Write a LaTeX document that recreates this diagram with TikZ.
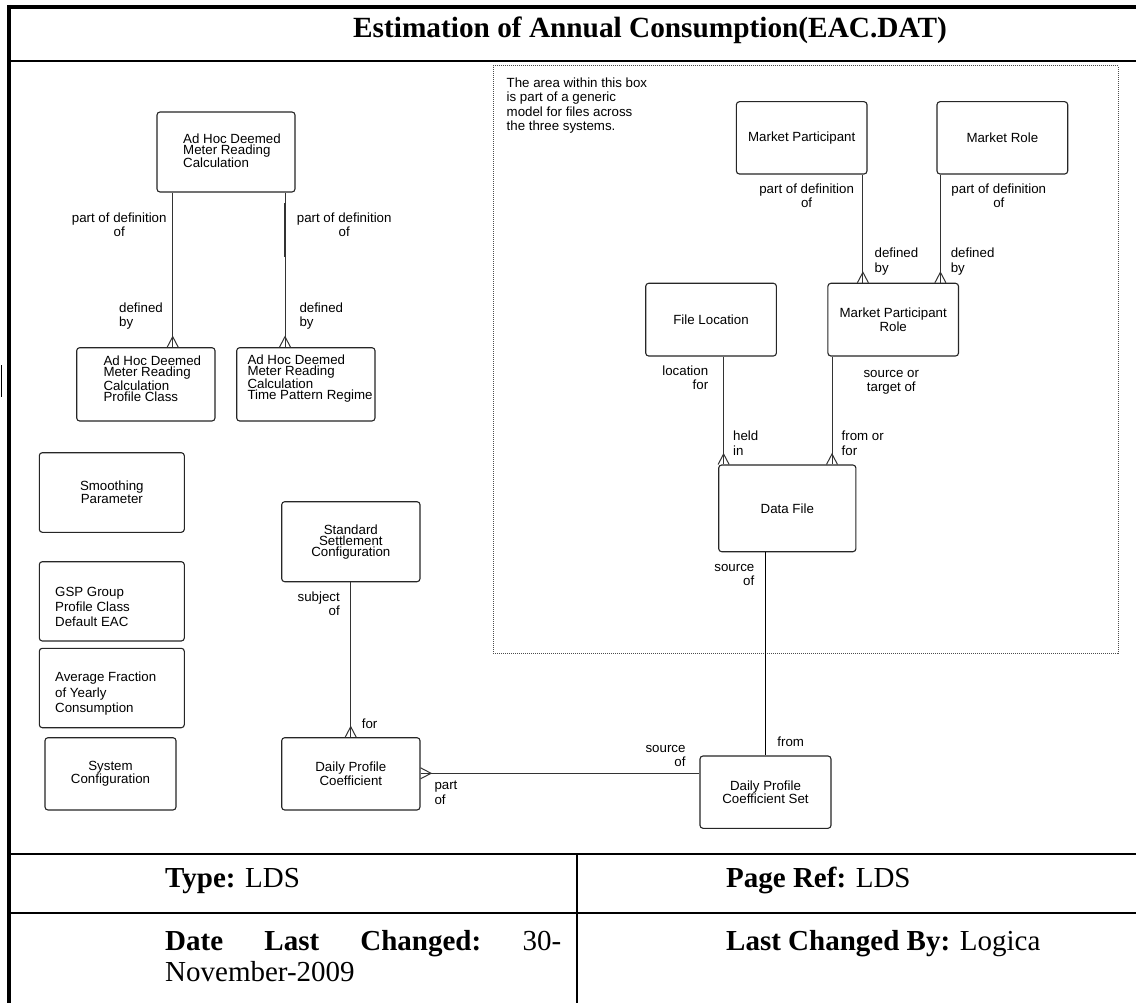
\documentclass[tikz,border=0pt]{standalone}
\usepackage{fontspec}
\setmainfont{Liberation Serif}
\newfontfamily\arialf{Liberation Sans}
\usetikzlibrary{calc}
\newcommand{\etxt}{\arialf\fontsize{13.3}{11}\selectfont}
\newcommand{\ltxt}{\arialf\fontsize{13.3}{14.3}\selectfont}
\newcommand{\gtxt}{\arialf\fontsize{13.3}{15.4}\selectfont}
\newcommand{\tabf}{\fontsize{29}{32}\selectfont}
\newcommand{\crowN}[1]{\draw[rel] ($(#1)+(-5.5,0)$) -- ($(#1)+(0,-10.5)$) -- ($(#1)+(5.5,0)$);}
\newcommand{\crowE}[1]{\draw[rel] ($(#1)+(0,-5.5)$) -- ($(#1)+(10.5,0)$) -- ($(#1)+(0,5.5)$);}
\begin{document}
\begin{tikzpicture}[x=1pt,y=-1pt,
  ent/.style={draw=black!85, line width=1.1pt, rounded corners=3pt, inner sep=0pt, font=\etxt, align=center},
  etx/.style={inner sep=0pt, font=\etxt, align=left, anchor=west},
  lbl/.style={inner sep=0pt, font=\ltxt},
  rel/.style={draw=black!80, line width=1pt},
  frame/.style={draw=black, line width=#1},
  tabtxt/.style={inner sep=0pt, anchor=base west, font=\tabf}]
\useasboundingbox (0,0) rectangle (1136,1003);
\fill[white] (0,0) rectangle (1136,1003);

% frame
\draw[frame=4pt] (7,7) -- (1136,7);
\draw[frame=4pt] (9,5) -- (9,1003);
\draw[frame=2.5pt] (9,61) -- (1136,61);
\draw[frame=2.5pt] (9,854) -- (1136,854);
\draw[frame=2.5pt] (9,913) -- (1136,913);
\draw[frame=2pt] (576.5,854) -- (576.5,1003);
\draw[frame=1.2pt] (1.2,365) -- (1.2,397);

\node[inner sep=0pt, anchor=base west, font=\bfseries\fontsize{29.3}{32}\selectfont] (title) at (353,37.5) {Estimation of Annual Consumption(EAC.DAT)};

% generic area
\node[draw=black!70, densely dotted, line width=1pt, minimum width=625pt, minimum height=587pt, inner sep=0pt] (area) at (805.8,359.5) {};
\node[lbl, align=left, anchor=west] (note) at (506.5,105.5) {The area within this box\\is part of a generic\\model for files across\\the three systems.};

% entities
\node[ent, minimum width=138pt, minimum height=80pt] (adhoc) at (226,152) {};
\node[etx] (adhoct) at (183,151) {Ad Hoc Deemed\\Meter Reading\\Calculation};
\node[ent, minimum width=138.3pt, minimum height=73.3pt] (ahpc) at (145.85,384.35) {};
\node[etx] (ahpct) at (103.3,378.6) {Ad Hoc Deemed\\Meter Reading\\Calculation\\Profile Class};
\node[ent, minimum width=138.3pt, minimum height=73.3pt] (ahtpr) at (305.85,384.35) {};
\node[etx] (ahtprt) at (247.3,378.6) {Ad Hoc Deemed\\Meter Reading\\Calculation\\Time Pattern Regime};
\node[ent, minimum width=145pt, minimum height=79.6pt, font=\arialf\fontsize{13.3}{10}\selectfont] (smooth) at (111.8,492.5) {Smoothing\\Parameter};
\node[ent, minimum width=145pt, minimum height=79.3pt] (gsp) at (111.8,601.35) {};
\node[etx, font=\gtxt] (gspt) at (55,607) {GSP Group\\Profile Class\\Default EAC};
\node[ent, minimum width=145pt, minimum height=79.4pt] (avg) at (111.8,688) {};
\node[etx, font=\gtxt] (avgt) at (55,693.8) {Average Fraction\\of Yearly\\Consumption};
\node[ent, minimum width=131pt, minimum height=72.3pt] (sysc) at (110.5,773.85) {System\\Configuration};
\node[ent, minimum width=138.3pt, minimum height=80pt] (ssc) at (350.85,541.7) {Standard\\Settlement\\Configuration};
\node[ent, minimum width=138.3pt, minimum height=72.3pt] (dpc) at (350.85,773.85) {Daily Profile\\Coefficient};
\node[ent, minimum width=130.6pt, minimum height=72.3pt] (mp) at (801.7,137.85) {Market Participant};
\node[ent, minimum width=130.7pt, minimum height=72.3pt] (mr) at (1002.35,137.85) {Market Role};
\node[ent, minimum width=130.7pt, minimum height=72.7pt] (fl) at (711.05,319.65) {File Location};
\node[ent, minimum width=130.6pt, minimum height=72.7pt, font=\arialf\fontsize{13.3}{10.6}\selectfont] (mpr) at (893.2,319.65) {Market Participant\\Role};
\node[ent, minimum width=137.2pt, minimum height=86.7pt] (df) at (787.3,508.35) {Data File};
\node[ent, minimum width=131pt, minimum height=72.3pt, font=\arialf\fontsize{13.3}{10}\selectfont] (dpcs) at (765.5,792.15) {Daily Profile\\Coefficient Set};

% connector x positions
\coordinate (xa) at (172.7,0);
\coordinate (xb) at (285,0);
\coordinate (xc) at (862.9,0);
\coordinate (xd) at (940.4,0);
\coordinate (xe) at (723.6,0);
\coordinate (xf) at (832,0);
\coordinate (xg) at (765.2,0);
\coordinate (xh) at (350.7,0);
\coordinate (yh) at (0,773.3);

\draw[rel] (adhoc.south -| xa) -- (ahpc.north -| xa);
\crowN{ahpc.north -| xa}
\draw[rel] (adhoc.south -| xb) -- (ahtpr.north -| xb);
\draw[draw=black!80, line width=2pt] (285,203) -- (285,257);
\crowN{ahtpr.north -| xb}
\draw[rel] (mp.south -| xc) -- (mpr.north -| xc);
\crowN{mpr.north -| xc}
\draw[rel] (mr.south -| xd) -- (mpr.north -| xd);
\crowN{mpr.north -| xd}
\draw[rel] (fl.south -| xe) -- (df.north -| xe);
\crowN{df.north -| xe}
\draw[rel] (mpr.south -| xf) -- (df.north -| xf);
\crowN{df.north -| xf}
\draw[draw=black, line width=1.3pt] (df.south -| xg) -- (dpcs.north -| xg);
\draw[rel] (ssc.south -| xh) -- (dpc.north -| xh);
\crowN{dpc.north -| xh}
\draw[rel] (dpc.east |- yh) -- (dpcs.west |- yh);
\crowE{dpc.east |- yh}

% labels
\node[lbl, align=center] (l1) at (119.2,224.7) {part of definition\\of};
\node[lbl, align=left, anchor=west] (l2) at (119,315.8) {defined\\by};
\node[lbl, align=center] (l3) at (344.2,224.7) {part of definition\\of};
\node[lbl, align=left, anchor=west] (l4) at (299.3,315.8) {defined\\by};
\node[lbl, align=center] (l5) at (806.6,195.8) {part of definition\\of};
\node[lbl, align=center] (l6) at (998.8,195.8) {part of definition\\of};
\node[lbl, align=left, anchor=west] (l7) at (874.4,261.7) {defined\\by};
\node[lbl, align=left, anchor=west] (l8) at (950.6,261.7) {defined\\by};
\node[lbl, align=right, anchor=east] (l9) at (708.4,377.8) {location\\for};
\node[lbl, align=left, anchor=west] (l10) at (733,443.3) {held\\in};
\node[lbl, align=center] (l11) at (891.3,382.2) {source or\\target of};
\node[lbl, align=left, anchor=west] (l12) at (841.5,443.3) {from or\\for};
\node[lbl, align=right, anchor=east] (l13) at (754.5,574.7) {source\\of};
\node[lbl, anchor=west] (l14) at (777.2,741.7) {from};
\node[lbl, align=right, anchor=east] (l15) at (685.7,756.2) {source\\of};
\node[lbl, align=right, anchor=east] (l16) at (340,603.7) {subject\\of};
\node[lbl, anchor=west] (l17) at (361.7,723.3) {for};
\node[lbl, align=left, anchor=west] (l18) at (434.3,792.7) {part\\of};

% table
\node[tabtxt] (type) at (165,887.6) {\textbf{Type:} LDS};
\node[tabtxt] (pref) at (726,887.6) {\textbf{Page Ref:} LDS};
\node[tabtxt] (date) at (165,950.6) {\hbox to 396pt{\textbf{Date}\hfill\textbf{Last}\hfill\textbf{Changed:}\hfill 30-}};
\node[tabtxt] (nov) at (165,981.6) {November-2009};
\node[tabtxt] (lcb) at (726,950.6) {\textbf{Last Changed By:} Logica};
\end{tikzpicture}
\end{document}
